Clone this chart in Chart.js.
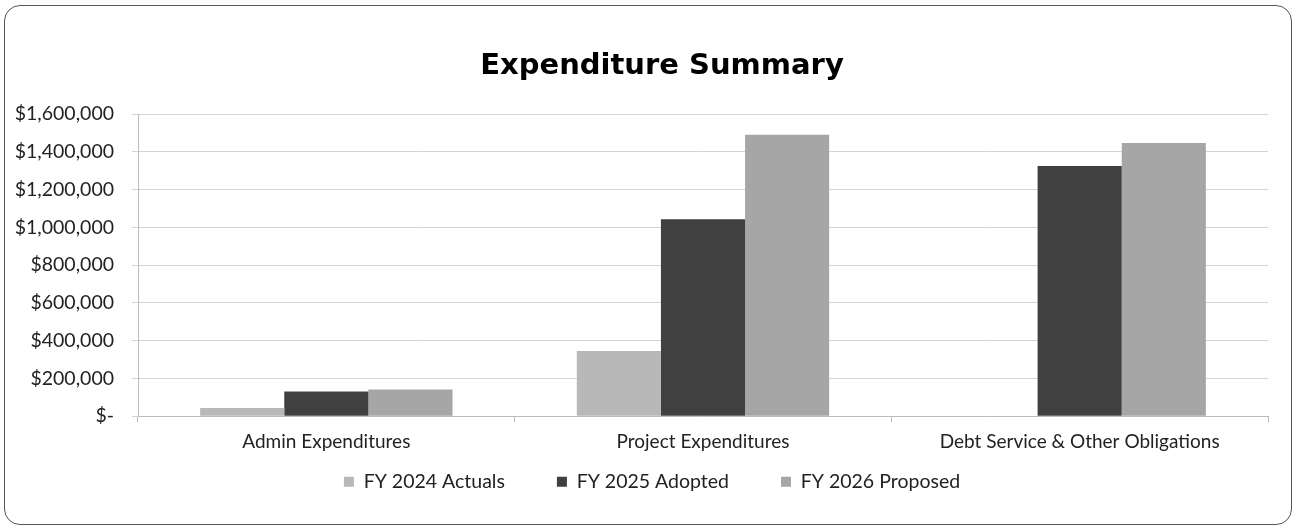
<!DOCTYPE html>
<html>
<head>
<meta charset="utf-8">
<script src="https://cdn.jsdelivr.net/npm/chart.js@4/dist/chart.umd.min.js"></script>
<style>
  body { margin: 0; background: #fff; }
  #wrap { position: relative; width: 1296px; height: 529px; }
  #frame {
    position: absolute; left: 4px; top: 5px; width: 1286px; height: 518px;
    border: 1.5px solid #555; border-radius: 16px;
  }
  #chartGasto { position: absolute; left: 0; top: 0; }
</style>
</head>
<body>
<div id="wrap">
  <div id="frame"></div>
  <canvas id="chartGasto" width="1296" height="529"></canvas>
</div>
<script>
const categorias = ['Admin Expenditures', 'Project Expenditures', 'Debt Service & Other Obligations'];
const fy2024Actuals = [44000, 345000, 0];
const fy2025Adopted = [131000, 1043000, 1325000];
const fy2026Proposed = [142000, 1490000, 1447000];
const ticksY = [0, 200000, 400000, 600000, 800000, 1000000, 1200000, 1400000, 1600000];

const fonte = 'Lato, "Noto Sans", sans-serif';

function formatarDolar(v) {
    if (v === 0) return '$-';
    return '$' + v.toLocaleString('en-US');
}

// altura fixa da legenda no layout e pequenos deslocamentos de título e legenda
const ajustaPosicoes = {
    id: 'ajustaPosicoes',
    afterInit(chart) {
        const lg = chart.legend;
        const fitOriginal = lg.fit;
        lg.fit = function() {
            fitOriginal.call(this);
            this.height = 50;
        };
    },
    afterLayout(chart) {
        const lg = chart.legend;
        lg.left += 18; lg.right += 18;
        lg.top = 420;
        lg.height = 109;
        lg.bottom = 529;
        const tt = chart.titleBlock;
        tt.left += 28; tt.right += 28;
    }
};

const ctx = document.getElementById('chartGasto').getContext('2d');

new Chart(ctx, {
    type: 'bar',
    data: {
        labels: categorias,
        datasets: [
            { label: 'FY 2024 Actuals', data: fy2024Actuals, backgroundColor: '#b8b8b8' },
            { label: 'FY 2025 Adopted', data: fy2025Adopted, backgroundColor: '#404040' },
            { label: 'FY 2026 Proposed', data: fy2026Proposed, backgroundColor: '#a6a6a6' }
        ]
    },
    plugins: [ajustaPosicoes],
    options: {
        responsive: false,
        animation: false,
        layout: { padding: { left: 0, right: 28, top: 48.6, bottom: 18 } },
        datasets: { bar: { categoryPercentage: 0.67, barPercentage: 1 } },
        plugins: {
            title: {
                display: true,
                text: 'Expenditure Summary',
                color: '#000',
                font: { family: '"DejaVu Sans", sans-serif', size: 29, weight: 'bold' },
                padding: { top: 0, bottom: 30.6 }
            },
            legend: {
                position: 'bottom',
                labels: {
                    color: '#222',
                    font: { family: fonte, size: 19.5 },
                    boxWidth: 10,
                    boxHeight: 10,
                    padding: 52
                }
            },
            tooltip: { enabled: false }
        },
        scales: {
            x: {
                grid: { offset: true, drawOnChartArea: false, tickLength: 6, color: '#bbb' },
                border: { color: '#bbb' },
                ticks: { color: '#222', font: { family: fonte, size: 19 }, padding: 8 }
            },
            y: {
                min: 0,
                max: 1600000,
                afterFit: function(scale) { scale.width = 138; },
                afterBuildTicks: function(scale) { scale.ticks = ticksY.map(v => ({ value: v })); },
                grid: { color: '#d4d4d4', tickLength: 6 },
                border: { color: '#bbb' },
                ticks: {
                    color: '#222',
                    font: { family: fonte, size: 19.5 },
                    padding: 18,
                    callback: formatarDolar
                }
            }
        }
    }
});
</script>
</body>
</html>
